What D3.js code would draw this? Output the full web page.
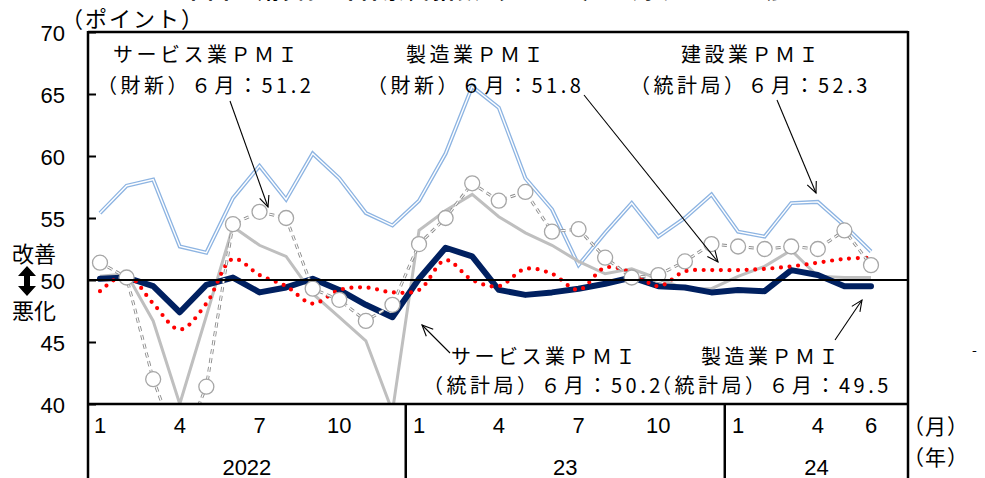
<!DOCTYPE html>
<html><head><meta charset="utf-8">
<script src="https://cdn.jsdelivr.net/npm/d3@7"></script>
<style>
html,body{margin:0;padding:0;background:#fff;}
svg{display:block;}
text{font-family:"Noto Sans CJK JP","Noto Sans",sans-serif;fill:#000;}
.num{font-family:"Liberation Sans",Arial,sans-serif;}
</style></head>
<body>
<svg id="chart" width="985" height="478"></svg>
<script>
// ---- data ----
const months = ["2022-01","2022-02","2022-03","2022-04","2022-05","2022-06","2022-07","2022-08","2022-09","2022-10","2022-11","2022-12",
  "2023-01","2023-02","2023-03","2023-04","2023-05","2023-06","2023-07","2023-08","2023-09","2023-10","2023-11","2023-12",
  "2024-01","2024-02","2024-03","2024-04","2024-05","2024-06"];
const mfgNBS    = [50.1,50.2,49.5,47.4,49.6,50.2,49.0,49.4,50.1,49.2,48.0,47.0, 50.1,52.6,51.9,49.2,48.8,49.0,49.3,49.7,50.2,49.5,49.4,49.0, 49.2,49.1,50.8,50.4,49.5,49.5];
const mfgCaixin = [49.1,50.4,48.1,46.0,48.1,51.7,50.4,49.5,48.1,49.2,49.4,49.0, 49.2,51.6,50.0,49.5,50.9,50.5,49.2,51.0,50.6,49.5,50.7,50.8, 50.8,50.9,51.1,51.4,51.7,51.8];
const svcNBS    = [50.3,50.5,46.7,40.0,47.1,54.3,52.8,51.9,48.9,47.0,45.1,39.4, 54.0,55.6,56.9,55.1,53.8,52.8,51.5,50.5,50.9,50.1,49.3,49.3, 50.3,51.1,52.4,50.3,50.2,50.2];
const svcCaixin = [51.4,50.2,42.0,36.2,41.4,54.5,55.5,55.0,49.3,48.4,46.7,48.0, 52.9,55.0,57.8,56.4,57.1,53.9,54.1,51.8,50.2,50.4,51.5,52.9, 52.7,52.5,52.7,52.5,54.0,51.2];
const constrNBS = [55.4,57.6,58.1,52.7,52.2,56.6,59.2,56.5,60.2,58.2,55.4,54.4, 56.4,60.2,65.6,63.9,58.2,55.7,51.2,53.8,56.2,53.5,55.0,56.9, 53.9,53.5,56.2,56.3,54.4,52.3];
const yTicks = [40,45,50,55,60,65,70];
const monthTicks = ["2022-01","2022-04","2022-07","2022-10","2023-01","2023-04","2023-07","2023-10","2024-01","2024-04","2024-06"];
const years = [{label:"2022",from:"2022-01",to:"2022-12"},{label:"23",from:"2023-01",to:"2023-12"},{label:"24",from:"2024-01",to:"2024-06"}];

// ---- layout ----
const L = 88, R = 908, T = 32, B = 404, BOT = 478;
const svg = d3.select("#chart");
const x = d3.scalePoint().domain(months).range([100, 871]);
const step = x.step();
const y = d3.scaleLinear().domain([40,70]).range([B, T]);

// title (mostly cut off at top, as in the reference)
svg.append("text").attr("x",495).attr("y",-2).attr("text-anchor","middle")
  .style("font-size","22px").style("font-weight","bold").style("letter-spacing","3px")
  .text("中国の購買担当者景気指数（ＰＭＩ）に対する主な動き");

svg.append("defs").append("clipPath").attr("id","clip")
  .append("rect").attr("x",L).attr("y",T).attr("width",R-L).attr("height",B-T);

const g = svg.append("g").attr("clip-path","url(#clip)");
const line = arr => d3.line().x((d,i)=>x(months[i])).y(d=>y(d))(arr);

// construction: blue double line
g.append("path").attr("d",line(constrNBS)).attr("fill","none").attr("stroke","#8db4e2").attr("stroke-width",4).attr("stroke-linejoin","miter");
g.append("path").attr("d",line(constrNBS)).attr("fill","none").attr("stroke","#fff").attr("stroke-width",1.4);

// services NBS: light grey
g.append("path").attr("d",line(svcNBS)).attr("fill","none").attr("stroke","#bfbfbf").attr("stroke-width",3);

// 50 line
svg.append("line").attr("x1",L).attr("x2",R).attr("y1",y(50)).attr("y2",y(50)).attr("stroke","#000").attr("stroke-width",2);

// manufacturing NBS: navy thick
g.append("path").attr("d",line(mfgNBS)).attr("fill","none").attr("stroke","#002060").attr("stroke-width",6).attr("stroke-linejoin","round").attr("stroke-linecap","round");

// manufacturing Caixin: red dotted smoothed
const smooth = d3.line().x((d,i)=>x(months[i])).y(d=>y(d)).curve(d3.curveCatmullRom.alpha(0.5));
g.append("path").attr("d",smooth(mfgCaixin)).attr("fill","none").attr("stroke","#ff0000").attr("stroke-width",4.2)
  .attr("stroke-linecap","round").attr("stroke-dasharray","0,8.6");

// services Caixin: grey dashed w/ circles
g.append("path").attr("d",line(svcCaixin)).attr("fill","none").attr("stroke","#8c8c8c").attr("stroke-width",3).attr("stroke-dasharray","5,4");
g.append("path").attr("d",line(svcCaixin)).attr("fill","none").attr("stroke","#fff").attr("stroke-width",1.2).attr("stroke-dasharray","5,4");
g.selectAll("circle.svc").data(svcCaixin).join("circle").attr("class","svc")
  .attr("cx",(d,i)=>x(months[i])).attr("cy",d=>y(d)).attr("r",7.5)
  .attr("fill","#fff").attr("stroke","#a6a6a6").attr("stroke-width",1.3);

// frame
svg.append("line").attr("x1",L).attr("x2",R).attr("y1",T).attr("y2",T).attr("stroke","#000").attr("stroke-width",2.5);
svg.append("line").attr("x1",L).attr("x2",L).attr("y1",T-1).attr("y2",BOT).attr("stroke","#000").attr("stroke-width",2.5);
svg.append("line").attr("x1",R).attr("x2",R).attr("y1",T-1).attr("y2",BOT).attr("stroke","#000").attr("stroke-width",2.5);
svg.append("line").attr("x1",L).attr("x2",R).attr("y1",B).attr("y2",B).attr("stroke","#000").attr("stroke-width",2.5);

// y axis
const ya = svg.append("g").attr("transform",`translate(${L},0)`)
  .call(d3.axisLeft(y).tickValues(yTicks).tickSize(-8).tickPadding(23));
ya.select(".domain").remove();
ya.selectAll(".tick line").attr("stroke","#000").attr("stroke-width",2);
ya.selectAll(".tick text").attr("class","num").style("font-size","22px").attr("dy","0.4em").style("font-family","'Liberation Sans',Arial,sans-serif");

// x axis labels
svg.selectAll("text.mt").data(monthTicks).join("text").attr("class","mt num")
  .attr("x",d=>x(d)).attr("y",433).attr("text-anchor","middle").style("font-size","22px")
  .style("font-family","'Liberation Sans',Arial,sans-serif")
  .text(d=>String(+d.slice(5)));
// year dividers & labels
const yearBounds = years.map(yr=>({label:yr.label, x0: Math.max(L, x(yr.from)-step/2), x1: yr.label==="24" ? R : x(yr.to)+step/2}));
yearBounds.slice(0,-1).forEach(b=>{
  svg.append("line").attr("x1",b.x1).attr("x2",b.x1).attr("y1",B).attr("y2",BOT).attr("stroke","#000").attr("stroke-width",2.5);
});
svg.selectAll("text.yr").data(yearBounds).join("text").attr("class","yr num")
  .attr("x",d=>(d.x0+d.x1)/2).attr("y",475).attr("text-anchor","middle").style("font-size","22px")
  .style("font-family","'Liberation Sans',Arial,sans-serif").text(d=>d.label);

// unit labels
svg.append("text").attr("x",61).attr("y",27).style("font-size","22px").style("letter-spacing","2px").text("（ポイント）");
svg.append("text").attr("x",903).attr("y",434).style("font-size","21px").style("letter-spacing","1px").text("（月）");
svg.append("text").attr("x",903).attr("y",465).style("font-size","21px").style("letter-spacing","1px").text("（年）");
svg.append("text").attr("x",972).attr("y",355).style("font-size","14px").text("-");

// 改善/悪化
svg.append("text").attr("x",12).attr("y",262).style("font-size","22px").text("改善");
svg.append("text").attr("x",12).attr("y",319).style("font-size","22px").text("悪化");
svg.append("path").attr("d","M27,266 L36,276 L30,276 L30,286 L36,286 L27,296 L18,286 L24,286 L24,276 L18,276 Z").attr("fill","#000");

// annotations
const ann = svg.append("g").style("font-size","20px").style("letter-spacing","3.5px");
const addText=(x0,y0,t)=>ann.append("text").attr("x",x0).attr("y",y0).text(t);
addText(113,62,"サービス業ＰＭＩ");
addText(97,93,"（財新）６月：51.2");
addText(406,62,"製造業ＰＭＩ");
addText(367,93,"（財新）６月：51.8");
addText(681,62,"建設業ＰＭＩ");
addText(630,93,"（統計局）６月：52.3");
addText(451,364,"サービス業ＰＭＩ");
addText(423,393,"（統計局）６月：50.2");
addText(701,364,"製造業ＰＭＩ");
addText(651,393,"（統計局）６月：49.5");

function arrow(x1,y1,x2,y2){
  svg.append("line").attr("x1",x1).attr("y1",y1).attr("x2",x2).attr("y2",y2).attr("stroke","#000").attr("stroke-width",1.1);
  const a=Math.atan2(y2-y1,x2-x1), len=12, w=0.42;
  const p1=[x2-len*Math.cos(a-w), y2-len*Math.sin(a-w)], p2=[x2-len*Math.cos(a+w), y2-len*Math.sin(a+w)];
  svg.append("path").attr("d",`M${p1[0]},${p1[1]} L${x2},${y2} L${p2[0]},${p2[1]}`).attr("fill","none").attr("stroke","#000").attr("stroke-width",1.1);
}
arrow(230,101,268,207);
arrow(584,95,718,262);
arrow(777,100,816,193);
arrow(450,353,422,325);
arrow(835,340,862,300);
</script>
</body></html>
